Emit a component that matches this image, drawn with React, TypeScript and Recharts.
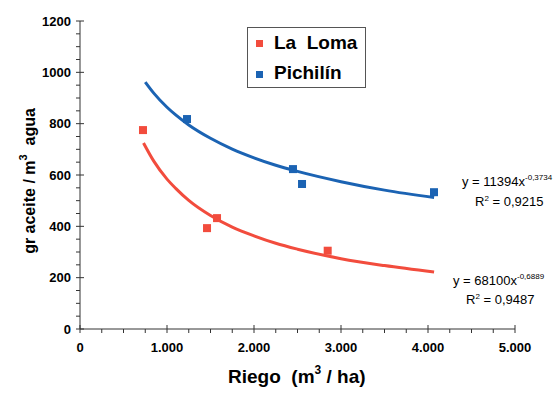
import React from 'react';
import { ComposedChart, Line, Scatter, XAxis, YAxis } from 'recharts';

// measured points
const lomaPoints = [
  { x: 724, y: 775 },
  { x: 1460, y: 393 },
  { x: 1575, y: 432 },
  { x: 2847, y: 305 },
];
const pichilinPoints = [
  { x: 1230, y: 818 },
  { x: 2448, y: 623 },
  { x: 2552, y: 565 },
  { x: 4069, y: 533 },
];

// trend curves
const lomaTrend = [
  { x: 730, y: 725 },
  { x: 850, y: 653 },
  { x: 1000, y: 584 },
  { x: 1100, y: 548 },
  { x: 1250, y: 501 },
  { x: 1500, y: 442 },
  { x: 1750, y: 397 },
  { x: 2000, y: 363 },
  { x: 2250, y: 334 },
  { x: 2500, y: 311 },
  { x: 3000, y: 274 },
  { x: 3500, y: 247 },
  { x: 4070, y: 222 },
];
const pichilinTrend = [
  { x: 750, y: 962 },
  { x: 850, y: 918 },
  { x: 1000, y: 864 },
  { x: 1100, y: 834 },
  { x: 1250, y: 795 },
  { x: 1500, y: 743 },
  { x: 1750, y: 701 },
  { x: 2000, y: 667 },
  { x: 2250, y: 638 },
  { x: 2500, y: 614 },
  { x: 3000, y: 574 },
  { x: 3500, y: 541 },
  { x: 4070, y: 512 },
];

const xTicks = [0, 250, 500, 750, 1000, 1250, 1500, 1750, 2000, 2250, 2500, 2750, 3000, 3250, 3500, 3750, 4000, 4250, 4500, 4750, 5000];
const yTicks = [0, 50, 100, 150, 200, 250, 300, 350, 400, 450, 500, 550, 600, 650, 700, 750, 800, 850, 900, 950, 1000, 1050, 1100, 1150, 1200];

const RED = '#F24C3D';
const BLUE = '#1B63B3';
const AXIS = '#333';
const FONT = 'Arial, "Liberation Sans", sans-serif';

const fmtX = (v: number) => (v === 0 ? '0' : (v / 1000).toFixed(3));

const X_MARGIN = 14;
const Y_MARGIN = 9;

const XTick = (props: any) => {
  const { x, y, payload } = props;
  const v = payload.value as number;
  const major = v % 1000 === 0;
  const top = y - X_MARGIN;
  return (
    <g>
      <line x1={x} x2={x} y1={major ? top - 4 : top} y2={top + 4} stroke={AXIS} strokeWidth={1} />
      {major && (
        <text x={x} y={y} dy="0.71em" textAnchor="middle" fontSize={13} fontWeight="bold" fontFamily={FONT} fill="#000">
          {fmtX(v)}
        </text>
      )}
    </g>
  );
};

const YTick = (props: any) => {
  const { x, y, payload } = props;
  const v = payload.value as number;
  const major = v % 200 === 0;
  const edge = x + Y_MARGIN;
  return (
    <g>
      <line x1={edge - 4} x2={major ? edge + 4 : edge} y1={y} y2={y} stroke={AXIS} strokeWidth={1} />
      {major && (
        <text x={x} y={y} dy="0.35em" textAnchor="end" fontSize={13} fontWeight="bold" fontFamily={FONT} fill="#000">
          {v}
        </text>
      )}
    </g>
  );
};

const square = (color: string) => (p: any) => (
  <rect x={p.cx - 4} y={p.cy - 4} width={8} height={8} fill={color} />
);

export default function App() {
  return (
    <div style={{ position: 'absolute', left: 0, top: 0, width: 556, height: 393, background: '#fff', fontFamily: FONT, overflow: 'hidden' }}>
      <ComposedChart width={556} height={393} margin={{ top: 21, right: 41, left: 0, bottom: 0 }}>
        <XAxis
          type="number"
          dataKey="x"
          domain={[0, 5000]}
          ticks={xTicks}
          interval={0}
          height={64}
          tickSize={0}
          tickMargin={X_MARGIN}
          tickLine={false}
          axisLine={{ stroke: AXIS }}
          tick={<XTick />}
        />
        <YAxis
          type="number"
          dataKey="y"
          domain={[0, 1200]}
          ticks={yTicks}
          interval={0}
          width={80}
          tickSize={0}
          tickMargin={Y_MARGIN}
          tickLine={false}
          axisLine={{ stroke: AXIS }}
          tick={<YTick />}
        />
        <Line data={pichilinTrend} dataKey="y" type="monotone" stroke={BLUE} strokeWidth={3} dot={false} isAnimationActive={false} />
        <Line data={lomaTrend} dataKey="y" type="monotone" stroke={RED} strokeWidth={3} dot={false} isAnimationActive={false} />
        <Scatter data={pichilinPoints} dataKey="y" shape={square(BLUE)} isAnimationActive={false} />
        <Scatter data={lomaPoints} dataKey="y" shape={square(RED)} isAnimationActive={false} />
      </ComposedChart>

      {/* legend */}
      <div style={{ position: 'absolute', left: 247, top: 27, width: 119, height: 61, border: '1px solid #555', boxSizing: 'border-box', background: '#fff' }}>
        <div style={{ position: 'absolute', left: 8, top: 12, width: 7, height: 7, background: RED }} />
        <div style={{ position: 'absolute', left: 26, top: 3, fontSize: 19, fontWeight: 'bold', whiteSpace: 'pre', lineHeight: '24px' }}>La  Loma</div>
        <div style={{ position: 'absolute', left: 8, top: 43, width: 7, height: 7, background: BLUE }} />
        <div style={{ position: 'absolute', left: 26, top: 33, fontSize: 19, fontWeight: 'bold', whiteSpace: 'pre', lineHeight: '24px' }}>Pichilín</div>
      </div>

      {/* trend equations */}
      <div style={{ position: 'absolute', left: 462, top: 170, fontSize: 13, whiteSpace: 'pre', lineHeight: '16px' }}>
        y = 11394x<sup style={{ fontSize: 8, verticalAlign: 6 }}>-0,3734</sup>
      </div>
      <div style={{ position: 'absolute', left: 475, top: 191, fontSize: 13, whiteSpace: 'pre', lineHeight: '16px' }}>
        R<sup style={{ fontSize: 8, verticalAlign: 5 }}>2</sup> = 0,9215
      </div>
      <div style={{ position: 'absolute', left: 453, top: 269, fontSize: 13, whiteSpace: 'pre', lineHeight: '16px' }}>
        y = 68100x<sup style={{ fontSize: 8, verticalAlign: 6 }}>-0,6889</sup>
      </div>
      <div style={{ position: 'absolute', left: 466, top: 289, fontSize: 13, whiteSpace: 'pre', lineHeight: '16px' }}>
        R<sup style={{ fontSize: 8, verticalAlign: 5 }}>2</sup> = 0,9487
      </div>

      {/* axis titles */}
      <div style={{ position: 'absolute', left: 228, top: 367, fontSize: 19, fontWeight: 'bold', whiteSpace: 'pre', lineHeight: '20px' }}>
        Riego  (m<sup style={{ fontSize: 12, verticalAlign: 9, lineHeight: 0 }}>3</sup> / ha)
      </div>
      <div
        style={{
          position: 'absolute',
          left: 26,
          top: 181,
          transform: 'translate(-50%, -50%) rotate(-90deg)',
          fontSize: 16,
          fontWeight: 'bold',
          whiteSpace: 'pre',
          lineHeight: '20px',
        }}
      >
        gr aceite / m<sup style={{ fontSize: 11, verticalAlign: 8 }}>3</sup>  agua
      </div>
    </div>
  );
}
